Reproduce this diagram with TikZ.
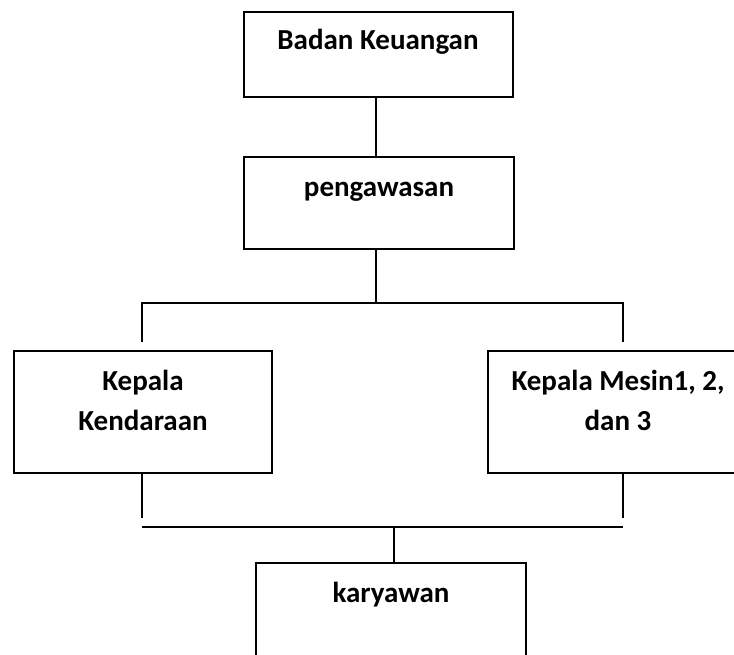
\documentclass[tikz,border=0pt]{standalone}
\usepackage{fontspec}
\setmainfont{Carlito}
\tikzset{
  box/.style={draw=black, line width=1.6pt, inner sep=0pt, outer sep=0pt, fill=white},
  lbl/.style={anchor=base, inner sep=0pt, font=\fontsize{29}{34}\selectfont\bfseries},
  conn/.style={draw=black, line width=1.6pt}
}
\begin{document}
\begin{tikzpicture}[x=1pt, y=-1pt]
\useasboundingbox (0,0) rectangle (734,655);
\clip (0,0) rectangle (734,655);
\fill[white] (0,0) rectangle (734,655);

% boxes
\node[box, minimum width=269pt, minimum height=85pt] (b1) at (378.5,54.5) {};
\node[box, minimum width=270pt, minimum height=92pt] (b2) at (379,203) {};
\node[box, minimum width=258pt, minimum height=122pt] (b3) at (143,412) {};
\node[box, minimum width=260pt, minimum height=122pt] (b4) at (618,412) {};
\node[box, minimum width=270pt, minimum height=122pt] (b5) at (391,624) {};

% labels
\node[lbl] (t1) at (378,50) {Badan Keuangan};
\node[lbl] (t2) at (379,197) {pengawasan};
\node[lbl] (t3a) at (143,390) {Kepala};
\node[lbl] (t3b) at (143,430) {Kendaraan};
\node[lbl] (t4a) at (618,390) {Kepala Mesin1, 2,};
\node[lbl] (t4b) at (618,430) {dan 3};
\node[lbl] (t5) at (391,602) {karyawan};

% junction coordinates
\coordinate (j0) at (376,100);
\coordinate (j1) at (376,303);
\coordinate (l1) at (142,303);
\coordinate (r1) at (623,303);
\coordinate (l1e) at (142,342);
\coordinate (r1e) at (623,342);
\coordinate (l2) at (142,518);
\coordinate (r2) at (623,518);
\coordinate (h2l) at (142,527);
\coordinate (h2r) at (623,527);
\coordinate (j2) at (394,527);

% connectors
\draw[conn] (b1.south -| j0) -- (b2.north -| j0);
\draw[conn] (b2.south -| j1) -- (j1);
\draw[conn] (l1e) -- (l1) -- (r1) -- (r1e);
\draw[conn] (b3.south -| l2) -- (l2);
\draw[conn] (b4.south -| r2) -- (r2);
\draw[conn] (h2l) -- (h2r);
\draw[conn] (j2) -- (j2 |- b5.north);
\end{tikzpicture}
\end{document}
